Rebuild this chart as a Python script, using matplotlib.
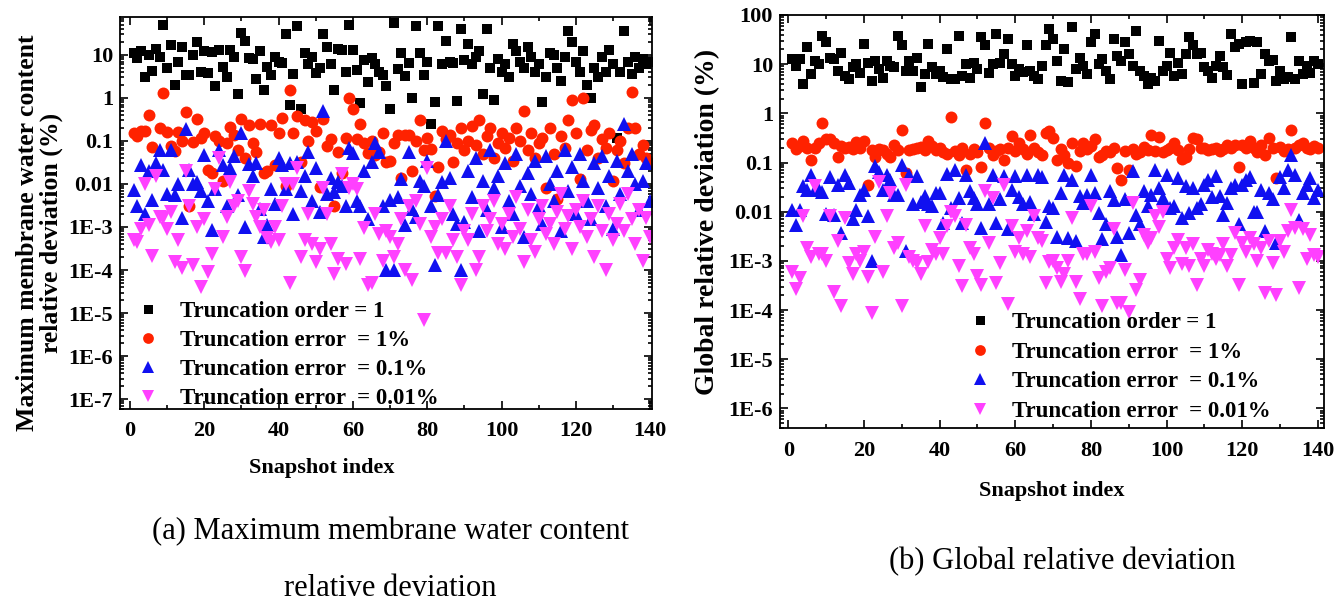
import numpy as np
import matplotlib
matplotlib.use("Agg")
import matplotlib.pyplot as plt
from matplotlib.ticker import FixedLocator, MultipleLocator, LogLocator, NullFormatter

# ------------------------------
# 1. Data
# ------------------------------
snapshot = np.arange(1, 141)

# (a) maximum membrane water content relative deviation (%)
mwc_order1 = [11, 8.5, 12, 3, 10, 4.3, 14, 9, 50, 5,
              17, 2, 7, 15, 3.4, 3.4, 10, 20, 4, 12,
              3.8, 11.5, 1.85, 13, 5.2, 3.1, 13, 9, 1.2, 33,
              21, 8.5, 8, 2.8, 12.5, 1.5, 5.2, 3.4, 9, 6.8,
              6.5, 30, 0.7, 3.6, 46, 0.55, 11, 6.2, 9, 3.8,
              5, 30, 15.5, 6, 1.55, 14, 13, 4, 49, 13,
              4.4, 0.77, 7.7, 2.4, 8.4, 6, 4.1, 3.4, 1.9, 0.55,
              55, 4.6, 11, 3.2, 6.6, 1.0, 47, 11, 3.4, 7,
              0.25, 0.8, 47, 6.3, 21, 7, 6.5, 0.85, 39, 7.5,
              18, 6, 9, 12, 1.2, 40, 5, 0.9, 8, 4,
              6, 3, 18, 12, 7, 5, 15, 9, 4, 6,
              0.8, 3, 11, 10, 5, 2.5, 9, 35, 20, 7,
              4, 12, 2, 1.0, 5, 3, 9, 4, 13, 6,
              0.12, 4, 35, 7, 3.5, 9, 5, 8, 6, 7]
mwc_err1 = [0.15, 0.13, 0.17, 0.17, 0.4, 0.072, 0.02, 0.2, 1.3, 0.16,
            0.075, 0.057, 0.16, 0.1, 0.46, 0.003, 0.095, 0.32, 0.12, 0.15,
            0.021, 0.018, 0.13, 0.1, 0.012, 0.088, 0.21, 0.14, 0.06, 0.32,
            0.04, 0.23, 0.09, 0.054, 0.25, 0.018, 0.02, 0.23, 0.028, 0.15,
            0.35, 0.009, 1.5, 0.15, 0.38, 0.033, 0.3, 0.1, 0.27, 0.17,
            0.0083, 0.33, 0.075, 0.11, 0.003, 0.055, 0.018, 0.12, 1.0, 0.54,
            0.11, 0.25, 0.088, 0.052, 0.1, 0.047, 0.055, 0.15, 0.033, 0.035,
            0.09, 0.14, 0.014, 0.14, 0.14, 0.02, 0.1, 0.3, 0.06, 0.12,
            0.065, 0.0053, 0.025, 0.17, 0.11, 0.14, 0.033, 0.09, 0.2, 0.06,
            0.1, 0.22, 0.08, 0.3, 0.05, 0.13, 0.2, 0.04, 0.09, 0.15,
            0.07, 0.12, 0.035, 0.2, 0.1, 0.5, 0.06, 0.15, 0.04, 0.09,
            0.12, 0.008, 0.2, 0.05, 0.0045, 0.13, 0.07, 0.3, 0.9, 0.15,
            0.013, 1.0, 0.06, 0.18, 0.24, 0.04, 0.11, 0.07, 0.15, 0.012,
            0.06, 0.1, 0.03, 0.2, 1.4, 0.2, 0.05, 0.08, 0.04, 0.03]
mwc_err01 = [0.0072, 0.003, 0.028, 0.002, 0.02, 0.0043, 0.03, 0.062, 0.021, 0.006,
             0.062, 0.0055, 0.01, 0.0016, 0.19, 0.021, 0.01, 0.011, 0.007, 0.047,
             0.004, 0.00085, 0.0075, 0.062, 0.028, 0.003, 0.024, 0.044, 0.0055, 0.15,
             0.001, 0.029, 0.015, 0.031, 0.0026, 0.0006, 0.0011, 0.0075, 0.0035, 0.04,
             0.028, 0.0075, 0.03, 0.002, 0.033, 0.007, 0.015, 0.056, 0.004, 0.023,
             0.0022, 0.5, 0.006, 0.014, 0.0065, 0.011, 0.009, 0.003, 0.068, 0.052,
             0.004, 0.003, 0.02, 0.0015, 0.033, 0.09, 0.055, 0.003, 0.0001, 0.0043,
             0.0001, 0.005, 0.013, 0.0011, 0.055, 0.0026, 0.0017, 0.012, 0.009, 0.035,
             0.003, 0.00013, 0.0055, 0.011, 0.1, 0.014, 0.002, 0.0012, 0.0001, 0.0013,
             0.02, 0.005, 0.04, 0.0008, 0.012, 0.0025, 0.06, 0.008, 0.015, 0.001,
             0.03, 0.004, 0.002, 0.05, 0.009, 0.0006, 0.018, 0.006, 0.035, 0.003,
             0.0012, 0.045, 0.01, 0.004, 0.02, 0.0008, 0.06, 0.007, 0.025, 0.002,
             0.05, 0.012, 0.004, 0.0015, 0.03, 0.008, 0.045, 0.003, 0.015, 0.0009,
             0.035, 0.006, 0.25, 0.02, 0.05, 0.01, 0.0025, 0.012, 0.03, 0.004]
mwc_err001 = [0.0005, 0.00045, 0.0009, 0.01, 0.0011, 0.00021, 0.015, 0.0017, 0.0016, 0.0009,
              0.0022, 0.00015, 0.0005, 0.00011, 0.02, 0.003, 0.00013, 0.001, 0.00004, 0.0015,
              0.00009, 0.00023, 0.0075, 0.04, 0.0006, 0.0017, 0.011, 0.003, 0.004, 0.0002,
              0.000095, 0.007, 0.0035, 0.0017, 0.001, 0.0025, 0.00055, 0.00045, 0.001, 0.0005,
              0.003, 0.0098, 0.00005, 0.01, 0.024, 0.0002, 0.0005, 0.002, 0.0004, 0.00015,
              0.0003, 0.008, 0.002, 0.0004, 0.00008, 0.00018, 0.017, 0.00014, 0.008, 0.01,
              0.0075, 0.00018, 0.00095, 0.000045, 0.00005, 0.002, 0.0007, 0.00016, 0.0008, 0.0006,
              0.0002, 0.0004, 0.0015, 0.0001, 0.003, 0.00006, 0.004, 0.0012, 0.000007, 0.024,
              0.0006, 0.001, 0.00025, 0.0015, 0.00025, 0.003, 0.0005, 0.0002, 0.000045, 0.0008,
              0.0005, 0.002, 0.0001, 0.0002, 0.003, 0.0008, 0.0015, 0.004, 0.0004, 0.0012,
              0.0003, 0.002, 0.0006, 0.005, 0.0009, 0.00015, 0.0025, 0.0005, 0.00026, 0.0015,
              0.003, 0.0007, 0.0012, 0.0004, 0.0022, 0.006, 0.0009, 0.0018, 0.0003, 0.0025,
              0.001, 0.004, 0.0006, 0.0015, 0.0002, 0.003, 0.0008, 0.0001, 0.002, 0.0005,
              0.0012, 0.0035, 0.0008, 0.006, 0.0015, 0.0004, 0.0025, 0.00016, 0.0016, 0.0006]

# (b) global relative deviation (%)
glob_order1 = [12.6, 9.3, 12.6, 3.9, 22, 6.2, 11.7, 10, 38, 28,
               13.6, 12.6, 7.3, 17, 5.8, 5, 8.6, 10, 6.7, 26,
               10.5, 4.6, 11.7, 7.9, 5.3, 11.7, 9.3, 8.6, 38, 24,
               7.3, 11.7, 7.3, 13.6, 3.4, 6.2, 26, 8.6, 6.2, 7.3,
               5.5, 20, 4.9, 4.9, 38, 5.8, 10, 5.3, 10.8, 8,
               35, 24, 6.7, 10, 41, 10.8, 16, 32, 10, 5.8,
               7.9, 7, 24, 7.3, 5.8, 4.9, 9.3, 24, 52, 32,
               11.7, 4.6, 20, 4.4, 56, 8, 13.6, 9.3, 6.2, 28,
               41, 10, 12.6, 7.3, 4.9, 32, 15, 11.7, 28, 16,
               9, 48, 7.3, 5.8, 3.9, 5.3, 4.5, 30, 7.3, 9.3,
               17, 5.8, 10.8, 6.2, 16, 35, 24, 16, 17, 8.6,
               7.3, 5.3, 9.3, 15, 8.6, 6, 41, 22, 26, 3.9,
               28, 30, 4.2, 28, 6.2, 16, 11.7, 12, 4.6, 7.3,
               5, 5.5, 35, 5, 11.7, 6.2, 9.3, 6.7, 11.7, 10]
glob_err1 = [0.25, 0.19, 0.22, 0.27, 0.2, 0.11, 0.2, 0.25, 0.65, 0.3,
             0.3, 0.25, 0.13, 0.22, 0.2, 0.21, 0.19, 0.26, 0.2, 0.28,
             0.035, 0.18, 0.13, 0.19, 0.18, 0.15, 0.13, 0.23, 0.18, 0.45,
             0.06, 0.18, 0.19, 0.2, 0.21, 0.18, 0.27, 0.22, 0.18, 0.2,
             0.16, 0.15, 0.85, 0.17, 0.14, 0.2, 0.07, 0.15, 0.19, 0.16,
             0.08, 0.65, 0.2, 0.14, 0.17, 0.19, 0.11, 0.2, 0.35, 0.17,
             0.25, 0.19, 0.15, 0.37, 0.2, 0.16, 0.14, 0.4, 0.44, 0.32,
             0.11, 0.19, 0.14, 0.1, 0.25, 0.085, 0.17, 0.25, 0.19, 0.22,
             0.3, 0.13, 0.14, 0.17, 0.16, 0.2, 0.078, 0.045, 0.17, 0.07,
             0.19, 0.15, 0.16, 0.21, 0.18, 0.37, 0.17, 0.33, 0.16, 0.18,
             0.2, 0.25, 0.18, 0.12, 0.13, 0.19, 0.32, 0.3, 0.2, 0.2,
             0.18, 0.19, 0.2, 0.17, 0.19, 0.23, 0.2, 0.23, 0.08, 0.23,
             0.2, 0.27, 0.2, 0.16, 0.23, 0.14, 0.32, 0.2, 0.049, 0.21,
             0.17, 0.19, 0.45, 0.2, 0.23, 0.25, 0.2, 0.19, 0.22, 0.2]
glob_err01 = [0.011, 0.0054, 0.011, 0.033, 0.028, 0.057, 0.028, 0.028, 0.025, 0.009,
              0.05, 0.0085, 0.035, 0.0037, 0.057, 0.038, 0.007, 0.011, 0.022, 0.028,
              0.008, 0.001, 0.085, 0.065, 0.028, 0.057, 0.045, 0.022, 0.022, 0.09,
              0.0016, 0.057, 0.014, 0.052, 0.016, 0.021, 0.014, 0.013, 0.024, 0.024,
              0.006, 0.058, 0.012, 0.07, 0.019, 0.0059, 0.055, 0.026, 0.019, 0.014,
              0.0047, 0.25, 0.014, 0.055, 0.0059, 0.018, 0.052, 0.0044, 0.028, 0.052,
              0.02, 0.014, 0.055, 0.016, 0.009, 0.055, 0.05, 0.0063, 0.013, 0.012,
              0.0031, 0.024, 0.057, 0.0029, 0.045, 0.0025, 0.021, 0.015, 0.022, 0.057,
              0.024, 0.0095, 0.0028, 0.0055, 0.026, 0.017, 0.0031, 0.0013, 0.018, 0.0037,
              0.067, 0.0085, 0.0055, 0.026, 0.013, 0.022, 0.072, 0.03, 0.019, 0.057,
              0.012, 0.013, 0.049, 0.0073, 0.033, 0.0095, 0.03, 0.012, 0.014, 0.035,
              0.045, 0.02, 0.052, 0.021, 0.0085, 0.015, 0.03, 0.035, 0.0055, 0.035,
              0.045, 0.05, 0.01, 0.01, 0.028, 0.004, 0.024, 0.018, 0.0023, 0.05,
              0.03, 0.07, 0.14, 0.057, 0.0068, 0.024, 0.035, 0.049, 0.019, 0.028]
glob_err001 = [0.0006, 0.00027, 0.00045, 0.008, 0.0018, 0.0012, 0.033, 0.0014, 0.0014, 0.001,
               0.008, 0.00023, 0.0025, 0.00012, 0.0075, 0.0009, 0.00055, 0.0014, 0.001, 0.0015,
               0.00048, 0.000085, 0.003, 0.04, 0.0006, 0.008, 0.024, 0.0018, 0.0023, 0.00012,
               0.035, 0.0012, 0.001, 0.0009, 0.00055, 0.0051, 0.00095, 0.0017, 0.0014, 0.0029,
               0.0014, 0.005, 0.01, 0.008, 0.0008, 0.00031, 0.0053, 0.0018, 0.0014, 0.0005,
               0.00033, 0.026, 0.0023, 0.019, 0.00035, 0.0009, 0.035, 0.00013, 0.005, 0.0015,
               0.0029, 0.0014, 0.004, 0.0012, 0.008, 0.0029, 0.0025, 0.00036, 0.00095, 0.001,
               0.0007, 0.00037, 0.00055, 0.001, 0.0073, 0.00037, 0.00017, 0.0014, 0.0014, 0.013,
               0.0015, 0.00045, 0.00012, 0.0006, 0.0007, 0.0045, 0.00014, 0.00014, 0.00065, 0.00009,
               0.015, 0.00025, 0.0004, 0.0034, 0.0023, 0.0029, 0.008, 0.0048, 0.01, 0.0011,
               0.0007, 0.0018, 0.0027, 0.00085, 0.0018, 0.0008, 0.0022, 0.00032, 0.0011, 0.00077,
               0.0017, 0.0014, 0.0011, 0.0013, 0.0022, 0.00077, 0.0013, 0.0036, 0.00032, 0.0023,
               0.0015, 0.0029, 0.0022, 0.001, 0.0018, 0.00022, 0.0025, 0.0009, 0.0002, 0.0025,
               0.0015, 0.004, 0.011, 0.0046, 0.00028, 0.0045, 0.0011, 0.0034, 0.0013, 0.0012]

series_labels = ["Truncation order = 1", "Truncation error  = 1%",
                 "Truncation error  = 0.1%", "Truncation error  = 0.01%"]

a_ticks = [1e-7, 1e-6, 1e-5, 1e-4, 1e-3, 0.01, 0.1, 1, 10]
a_ticklabels = ["1E-7", "1E-6", "1E-5", "1E-4", "1E-3", "0.01", "0.1", "1", "10"]
b_ticks = [1e-6, 1e-5, 1e-4, 1e-3, 0.01, 0.1, 1, 10, 100]
b_ticklabels = ["1E-6", "1E-5", "1E-4", "1E-3", "0.01", "0.1", "1", "10", "100"]

# ------------------------------
# 2. Style
# ------------------------------
plt.rcParams['font.family'] = ['Liberation Serif', 'DejaVu Serif']
plt.rcParams['font.weight'] = 'bold'

markers = ['s', 'o', '^', 'v']
colors = ['#000000', '#ff2200', '#1010f0', '#ff40ff']
msizes = [7.2, 8.6, 9.5, 9.5]


def style_axes(ax, ylim, xlim, ticks, ticklabels):
    ax.set_yscale('log')
    ax.set_xlim(*xlim)
    ax.set_ylim(*ylim)
    ax.xaxis.set_major_locator(MultipleLocator(20))
    ax.xaxis.set_minor_locator(MultipleLocator(10))
    ax.yaxis.set_major_locator(FixedLocator(ticks))
    ax.set_yticklabels(ticklabels)
    ax.yaxis.set_minor_locator(LogLocator(base=10, subs=np.arange(2, 10), numticks=30))
    ax.yaxis.set_minor_formatter(NullFormatter())
    ax.tick_params(which='both', direction='in', top=True, right=True,
                   labelsize=16, width=1.2)
    ax.tick_params(axis='x', pad=9)
    ax.tick_params(axis='y', pad=5)
    ax.tick_params(which='major', length=6)
    ax.tick_params(which='minor', length=3)
    for sp in ax.spines.values():
        sp.set_linewidth(1.3)
    ax.set_xlabel("Snapshot index", fontsize=16, fontweight='bold', labelpad=15)


def draw_series(ax, data):
    for vals, m, c, ms, lab in zip(data, markers, colors, msizes, series_labels):
        ax.plot(snapshot, vals, ls='none', marker=m, color=c, markersize=ms,
                markeredgewidth=0, label=lab)


def add_legend(ax, anchor, spacing):
    ax.legend(loc='upper left', bbox_to_anchor=anchor, frameon=False,
              prop={'weight': 'bold', 'size': 16.5}, handlelength=1.0,
              handletextpad=0.9, labelspacing=spacing, borderpad=0,
              borderaxespad=0, numpoints=1, markerscale=0.9)


fig = plt.figure(figsize=(13.38, 6), dpi=100)

# ------------------------------
# 3. Panel (a)
# ------------------------------
ax1 = fig.add_axes([120 / 1338, 1 - 409 / 600, 532 / 1338, 392 / 600])
draw_series(ax1, [mwc_order1, mwc_err1, mwc_err01, mwc_err001])
style_axes(ax1, (10 ** -7.23, 10 ** 1.88), (-2.7, 140.5), a_ticks, a_ticklabels)
ax1.xaxis.set_label_coords(0.38, -0.125)
ax1.set_ylabel("Maximum membrane water content\nrelative deviation (%)",
               fontsize=18.5, fontweight='bold', linespacing=1.0)
ax1.yaxis.set_label_coords(-0.108, 0.45)
add_legend(ax1, (0.031, 0.275), 0.35)

# ------------------------------
# 4. Panel (b)
# ------------------------------
ax2 = fig.add_axes([780 / 1338, 1 - 428 / 600, 544 / 1338, 413 / 600])
draw_series(ax2, [glob_order1, glob_err1, glob_err01, glob_err001])
style_axes(ax2, (10 ** -6.4, 100), (-2.2, 141.6), b_ticks, b_ticklabels)
ax2.set_ylabel("Global relative deviation (%)", fontsize=20, fontweight='bold', labelpad=6)
add_legend(ax2, (0.346, 0.281), 0.38)

# ------------------------------
# 5. Captions
# ------------------------------
fig.text(390 / 1338, 1 - 532 / 600, "(a) Maximum membrane water content",
         ha='center', va='center', fontsize=22, fontweight='normal')
fig.text(390 / 1338, 1 - 588 / 600, "relative deviation",
         ha='center', va='center', fontsize=22, fontweight='normal')
fig.text(1062 / 1338, 1 - 562 / 600, "(b) Global relative deviation",
         ha='center', va='center', fontsize=22, fontweight='normal')

fig.savefig("out.png", dpi=100)
